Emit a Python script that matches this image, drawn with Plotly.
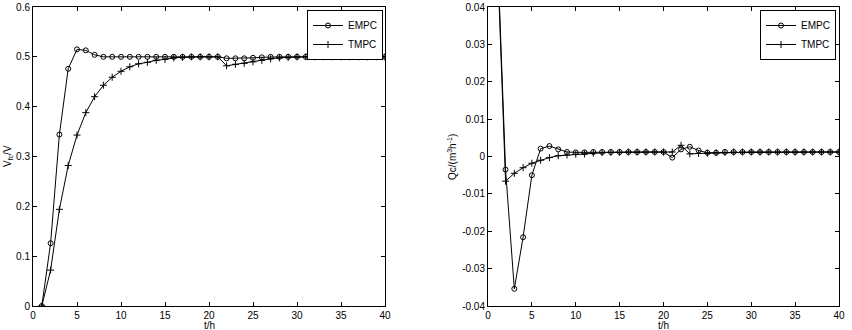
import plotly.graph_objects as go

t = list(range(1, 41))

# Left panel: V_fc/V
empc_v = [0.0, 0.126, 0.344, 0.476, 0.515, 0.513, 0.504, 0.5, 0.5, 0.5,
          0.5, 0.5, 0.5, 0.5, 0.5, 0.5, 0.5, 0.5, 0.5, 0.5,
          0.5, 0.497, 0.497, 0.497, 0.498, 0.499, 0.5, 0.5, 0.5, 0.5,
          0.5, 0.5, 0.5, 0.5, 0.5, 0.5, 0.5, 0.5, 0.5, 0.5]
tmpc_v = [0.0, 0.072, 0.194, 0.282, 0.343, 0.388, 0.420, 0.443, 0.459, 0.471,
          0.480, 0.486, 0.489, 0.493, 0.495, 0.498, 0.499, 0.5, 0.5, 0.5,
          0.5, 0.482, 0.485, 0.487, 0.490, 0.493, 0.496, 0.498, 0.499, 0.5,
          0.5, 0.5, 0.5, 0.5, 0.5, 0.5, 0.5, 0.5, 0.5, 0.5]

# Right panel: Qc
empc_q = [0.060, -0.0035, -0.0354, -0.0216, -0.0050, 0.0021, 0.0028, 0.0019, 0.0012, 0.0011,
          0.0011, 0.0012, 0.0012, 0.0012, 0.0012, 0.0012, 0.0012, 0.0012, 0.0012, 0.0012,
          -0.0003, 0.0019, 0.0026, 0.0016, 0.0010, 0.0010, 0.0012, 0.0012, 0.0012, 0.0012,
          0.0012, 0.0012, 0.0012, 0.0012, 0.0012, 0.0012, 0.0012, 0.0012, 0.0012, 0.0012]
tmpc_q = [0.058, -0.0066, -0.0045, -0.0030, -0.0018, -0.0010, -0.0003, 0.0002, 0.0004, 0.0006,
          0.0007, 0.0009, 0.0010, 0.0011, 0.0011, 0.0012, 0.0012, 0.0012, 0.0012, 0.0012,
          0.0012, 0.0030, 0.0007, 0.0008, 0.0009, 0.0010, 0.0011, 0.0012, 0.0012, 0.0012,
          0.0012, 0.0012, 0.0012, 0.0012, 0.0012, 0.0012, 0.0012, 0.0012, 0.0012, 0.0012]

x_ticks = [0, 5, 10, 15, 20, 25, 30, 35, 40]
left_y_ticks = [0, 0.1, 0.2, 0.3, 0.4, 0.5, 0.6]
left_y_text = ["0", "0.1", "0.2", "0.3", "0.4", "0.5", "0.6"]
right_y_ticks = [-0.04, -0.03, -0.02, -0.01, 0, 0.01, 0.02, 0.03, 0.04]
right_y_text = ["-0.04", "-0.03", "-0.02", "-0.01", "0", "0.01", "0.02", "0.03", "0.04"]

W, H = 852, 330
FONT = "Liberation Sans, Arial, sans-serif"

fig = go.Figure()

def add_series(x, y, name, symbol, size, xa, ya):
    fig.add_trace(go.Scatter(
        x=x, y=y, name=name, mode="lines+markers",
        line=dict(color="black", width=1),
        marker=dict(symbol=symbol, size=size, color="black",
                    line=dict(color="black", width=1)),
        xaxis=xa, yaxis=ya, showlegend=True,
        legend="legend" if xa == "x" else "legend2",
    ))

add_series(t, empc_v, "EMPC", "circle-open", 5, "x", "y")
add_series(t, tmpc_v, "TMPC", "cross-thin-open", 5, "x", "y")
add_series(t, empc_q, "EMPC", "circle-open", 5, "x2", "y2")
add_series(t, tmpc_q, "TMPC", "cross-thin-open", 5, "x2", "y2")

ydom = [(H - 306) / H, (H - 7) / H]
axis_common = dict(
    showgrid=False, zeroline=False, showline=True, linecolor="black", linewidth=1,
    mirror="ticks", ticks="inside", ticklen=4, tickcolor="black", tickwidth=1,
    tickfont=dict(family=FONT, size=10, color="black"), automargin=False,
)

legend_common = dict(
    bgcolor="white", bordercolor="black", borderwidth=1,
    font=dict(family=FONT, size=10, color="black"),
    xanchor="right", yanchor="top", itemwidth=30, tracegroupgap=0,
)

def ann(text, x, y, angle=0):
    return dict(text=text, x=x / W, y=(H - y) / H, xref="paper", yref="paper",
                xanchor="center", yanchor="middle", showarrow=False, textangle=angle,
                font=dict(family=FONT, size=10, color="black"))

fig.update_layout(
    width=W, height=H, margin=dict(l=0, r=0, t=0, b=0),
    paper_bgcolor="white", plot_bgcolor="white",
    font=dict(family=FONT, size=10, color="black"),
    xaxis=dict(domain=[33 / W, 385 / W], range=[0, 40], tickvals=x_ticks, anchor="y", **axis_common),
    yaxis=dict(domain=ydom, range=[0, 0.6], tickvals=left_y_ticks, ticktext=left_y_text, anchor="x", **axis_common),
    xaxis2=dict(domain=[488 / W, 839 / W], range=[0, 40], tickvals=x_ticks, anchor="y2", **axis_common),
    yaxis2=dict(domain=ydom, range=[-0.04, 0.04], tickvals=right_y_ticks, ticktext=right_y_text, anchor="x2", **axis_common),
    legend=dict(x=383 / W, y=(H - 10) / H, **legend_common),
    legend2=dict(x=836 / W, y=(H - 10) / H, **legend_common),
    annotations=[
        ann("t/h", (33 + 385) / 2, 325.5),
        ann("t/h", (488 + 839) / 2, 325.5),
        ann("V<sub>fc</sub>/V", 8, 156, -90),
        ann("Qc/(m<sup>3</sup>h<sup>-1</sup>)", 452, 157, -90),
    ],
)

fig.write_html("out.html")
